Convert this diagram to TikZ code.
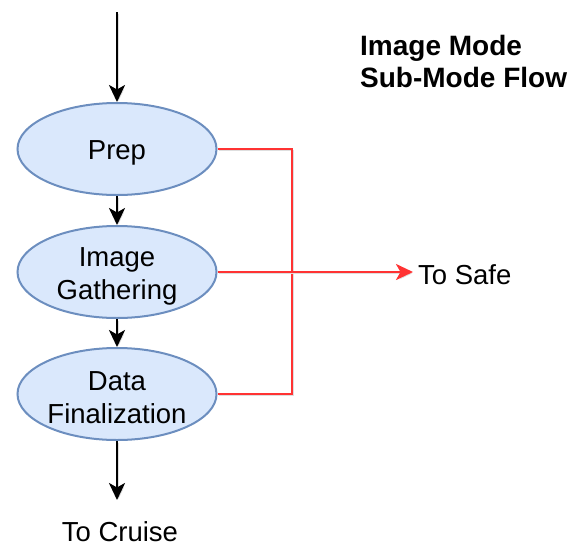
\documentclass[tikz,border=0pt]{standalone}
\usepackage{fontspec}
\setmainfont{Liberation Sans}
\usetikzlibrary{shapes.geometric,arrows.meta,positioning}
\definecolor{modefill}{HTML}{DAE8FC}
\definecolor{modeline}{HTML}{6C8EBF}
\definecolor{safered}{HTML}{FF3333}
\tikzset{
  mode/.style={ellipse, draw=modeline, fill=modefill, line width=2pt,
    minimum width=199pt, minimum height=92pt, inner sep=0pt},
  modetext/.style={align=center, yshift=-4pt},
  shade line/.style={preaction={draw=black!13, transform canvas={shift={(1.5pt,-1.5pt)}}}},
  tip/.style={-{Stealth[length=17pt,width=16pt,inset=4.5pt]}},
  flow/.style={shade line, line width=2.6pt, tip},
  safeline/.style={shade line, draw=safered, line width=2.6pt},
}
\begin{document}
\begin{tikzpicture}[x=1pt,y=-1pt,font=\fontsize{27.5}{33}\selectfont]
\useasboundingbox (0,0) rectangle (574,547);

  % sub-modes
  \node[mode] (prep)   at (117,149) {};
  \node[mode] (gather) at (117,272) {};
  \node[mode] (final)  at (117,394) {};
  \node[modetext] (prep label)   at (prep)   {Prep};
  \node[modetext] (gather label) at (gather) {Image\\Gathering};
  \node[modetext] (final label)  at (final)  {Data\\Finalization};

  \coordinate (entry) at (117,12);
  \coordinate (exit)  at (117,500);
  \coordinate (bus)   at (292,0);

  \node[anchor=base] (cruise) at (120,541) {To Cruise};
  \node[anchor=west, inner xsep=5pt, inner ysep=0pt] (safe) at (413,275) {To Safe};
  \node[anchor=north west, align=left, inner sep=0pt,
        font=\bfseries\fontsize{28}{32}\selectfont] (title) at (360,35)
        {Image Mode\\Sub-Mode Flow};

  % normal flow
  \draw[flow] (entry) -- (prep);
  \draw[flow] (prep) -- (gather);
  \draw[flow] (gather) -- (final);
  \draw[flow] (final) -- (exit);

  % fault exits
  \draw[safeline] (prep.east) -| (bus |- final.east) -- (final.east);
  \draw[safeline, tip] (gather.east) -- (gather.east -| safe.west);
\end{tikzpicture}
\end{document}
